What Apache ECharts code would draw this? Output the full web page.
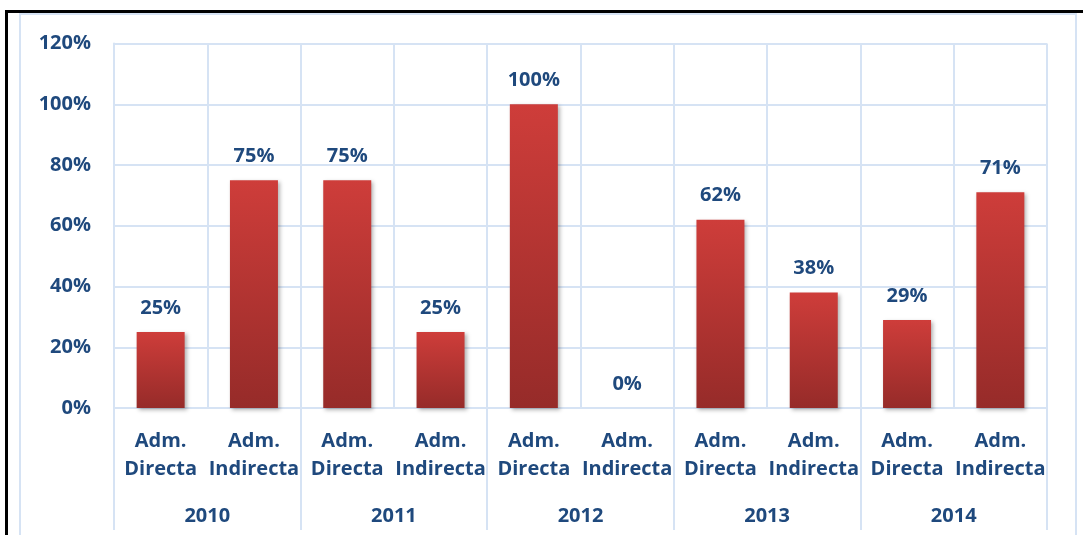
<!DOCTYPE html>
<html>
<head>
<meta charset="utf-8">
<script src="https://cdn.jsdelivr.net/npm/echarts@6/dist/echarts.min.js"></script>
<style>
    html, body { margin: 0; padding: 0; background: #fff; }
    #chart { width: 1083px; height: 535px; }
    .frame {
        position: absolute; left: 5px; top: 10px; width: 1200px; height: 600px;
        border-left: 3px solid #000; border-top: 3px solid #000; pointer-events: none;
    }
</style>
</head>
<body>
<div id="chart"></div>
<div class="frame"></div>
<script>
    // categorías
    const subCats = ['Adm.\nDirecta', 'Adm.\nIndirecta', 'Adm.\nDirecta', 'Adm.\nIndirecta', 'Adm.\nDirecta',
        'Adm.\nIndirecta', 'Adm.\nDirecta', 'Adm.\nIndirecta', 'Adm.\nDirecta', 'Adm.\nIndirecta'];
    const years = ['2010', '2011', '2012', '2013', '2014'];
    // porcentajes
    const values = [25, 75, 75, 25, 100, 0, 62, 38, 29, 71];

    const blue = '#1F497D';
    const gridColor = '#D6E3F4';
    const font = 'Open Sans';

    const chart = echarts.init(document.getElementById('chart'));
    const option = {
        animation: false,
        grid: { left: 114, right: 36, top: 43.5, bottom: 127 },
        graphic: [{
            type: 'rect',
            shape: { x: 20, y: 14, width: 1056, height: 540 },
            style: { fill: 'none', stroke: gridColor, lineWidth: 2 },
            silent: true
        }],
        xAxis: [{
            type: 'category',
            data: subCats,
            axisLine: { lineStyle: { color: gridColor, width: 2 } },
            axisTick: { show: false },
            splitLine: { show: true, interval: 0, lineStyle: { color: gridColor, width: 2 } },
            axisLabel: {
                interval: 0, margin: 19, lineHeight: 28,
                color: blue, fontFamily: font, fontWeight: 'bold', fontSize: 20
            }
        }, {
            type: 'category',
            data: years,
            position: 'bottom',
            axisLine: { show: false },
            axisTick: { show: true, inside: false, length: 122, lineStyle: { color: gridColor, width: 2 } },
            splitLine: { show: false },
            axisLabel: {
                interval: 0, margin: 98,
                color: blue, fontFamily: font, fontWeight: 'bold', fontSize: 20
            }
        }],
        yAxis: {
            type: 'value',
            min: 0, max: 120, interval: 20,
            axisLine: { show: true, lineStyle: { color: gridColor, width: 2 } },
            axisTick: { show: false },
            splitLine: { lineStyle: { color: gridColor, width: 2 } },
            axisLabel: {
                margin: 23, formatter: '{value}%',
                color: blue, fontFamily: font, fontWeight: 'bold', fontSize: 20
            }
        },
        series: [{
            type: 'bar',
            data: values,
            barWidth: 48,
            itemStyle: {
                color: new echarts.graphic.LinearGradient(0, 0, 0, 1, [
                    { offset: 0, color: '#CE3D3A' },
                    { offset: 1, color: '#962B29' }
                ]),
                shadowColor: 'rgba(0,0,0,0.3)',
                shadowBlur: 4,
                shadowOffsetX: 2,
                shadowOffsetY: 2
            },
            label: {
                show: true, position: 'top', distance: 14,
                formatter: '{c}%',
                color: blue, fontFamily: font, fontWeight: 'bold', fontSize: 20
            }
        }]
    };
    chart.setOption(option);
</script>
</body>
</html>
